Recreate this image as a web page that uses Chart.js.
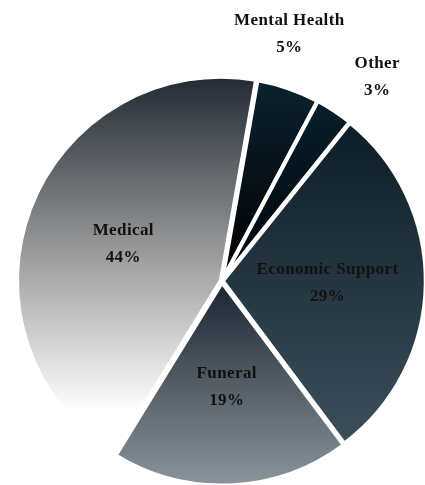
<!DOCTYPE html>
<html>
<head>
<meta charset="utf-8">
<script src="https://cdn.jsdelivr.net/npm/chart.js@4/dist/chart.umd.min.js"></script>
<style>
  html, body { margin: 0; padding: 0; background: #fff; overflow: hidden; }
  #wrap { width: 432px; height: 492px; }
</style>
</head>
<body>
<div id="wrap"><canvas id="grafica"></canvas></div>
<script>
// categorias y porcentajes, en el orden de las agujas del reloj
const etiquetas = ["Mental Health", "Other", "Economic Support", "Funeral", "Medical"];
const valores = [5, 3, 29, 19, 44];

// degradado de cada porcion: arriba -> abajo
const coloresArriba = ["#0c2330", "#08202c", "#0d1d28", "#1b2530", "#1e2730"];
const coloresMedio = [null, null, null, null, "#a2a2a2"];
const coloresAbajo = ["#000000", "#000308", "#3c4f5a", "#8c989e", "#ffffff"];

const ROTACION = 10;

function degradado(context) {
    const chart = context.chart;
    const area = chart.chartArea;
    const i = context.dataIndex;
    if (!area) return coloresArriba[i];

    // centro y radio aproximados de la torta
    const cx = (area.left + area.right) / 2;
    const cy = (area.top + area.bottom) / 2;
    const r = Math.min(area.width, area.height) / 2;

    const total = valores.reduce((a, b) => a + b, 0);
    let acum = 0;
    for (let k = 0; k < i; k++) acum += valores[k];
    const a0 = (ROTACION + acum / total * 360) * Math.PI / 180;
    const a1 = (ROTACION + (acum + valores[i]) / total * 360) * Math.PI / 180;

    // extension vertical de la porcion
    let ys = [cy, cy - r * Math.cos(a0), cy - r * Math.cos(a1)];
    for (let t = 0; t <= 4 * Math.PI; t += Math.PI) {
        if (t > a0 && t < a1) ys.push(cy - r * Math.cos(t));
    }
    const yTop = Math.min(...ys);
    const yBot = Math.max(...ys);

    const g = chart.ctx.createLinearGradient(0, yTop, 0, yBot);
    g.addColorStop(0, coloresArriba[i]);
    if (coloresMedio[i]) {
        g.addColorStop(0.5, coloresMedio[i]);
        g.addColorStop(0.88, coloresAbajo[i]);
    }
    g.addColorStop(1, coloresAbajo[i]);
    return g;
}

const etiquetasPlugin = {
    id: "etiquetasPorcion",
    afterDatasetsDraw(chart) {
        const ctx = chart.ctx;
        const meta = chart.getDatasetMeta(0);
        ctx.save();
        ctx.font = "bold 17px 'Liberation Serif', 'Times New Roman', serif";
        ctx.letterSpacing = "0.4px";
        ctx.fillStyle = "#111111";
        ctx.textAlign = "center";
        ctx.textBaseline = "middle";

        // angulos medios; las etiquetas de afuera se separan un poco
        const medios = meta.data.map(a => {
            const p = a.getProps(["startAngle", "endAngle"], true);
            return (p.startAngle + p.endAngle) / 2;
        });
        const minSep = 22 * Math.PI / 180;
        for (let i = 0; i < medios.length - 1; i++) {
            if (valores[i] < 10 && valores[i + 1] < 10) {
                const dif = medios[i + 1] - medios[i];
                if (dif < minSep) {
                    medios[i] -= (minSep - dif) / 2;
                    medios[i + 1] += (minSep - dif) / 2;
                }
            }
        }

        meta.data.forEach((arco, i) => {
            const p = arco.getProps(["x", "y", "outerRadius"], true);
            const factor = valores[i] < 10 ? 1.265 : 0.52;
            const px = p.x + Math.cos(medios[i]) * p.outerRadius * factor;
            const py = p.y + Math.sin(medios[i]) * p.outerRadius * factor;
            ctx.fillText(etiquetas[i], px, py - 13);
            ctx.fillText(valores[i] + "%", px, py + 14);
        });
        ctx.restore();
    }
};

const data = {
    labels: etiquetas,
    datasets: [{
        data: valores,
        backgroundColor: degradado,
        borderColor: "#ffffff",
        borderWidth: 4,
        offset: [2, 2, 3, 6, 5],
    }]
};

const config = {
    type: "pie",
    data: data,
    options: {
        responsive: true,
        maintainAspectRatio: false,
        animation: false,
        rotation: ROTACION,
        layout: { padding: { left: 14, top: 73, right: 2, bottom: 3 } },
        plugins: {
            legend: { display: false },
            tooltip: { enabled: false }
        }
    },
    plugins: [etiquetasPlugin]
};

new Chart(document.getElementById("grafica"), config);
</script>
</body>
</html>
